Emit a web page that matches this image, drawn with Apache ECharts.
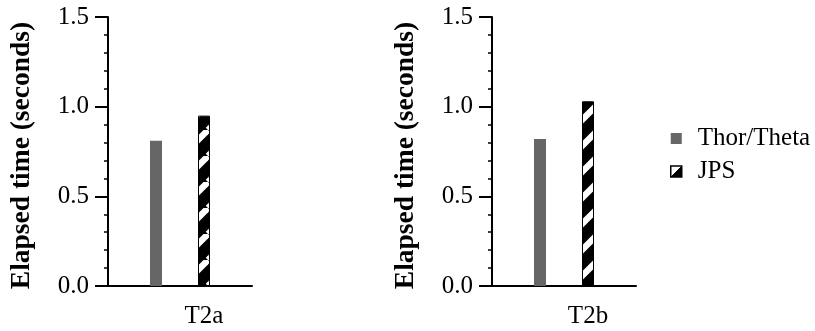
<!DOCTYPE html>
<html>
<head>
<meta charset="utf-8">
<script src="https://cdn.jsdelivr.net/npm/echarts@6/dist/echarts.min.js"></script>
<style>
  html, body { margin: 0; padding: 0; background: #fff; }
  #chart { width: 815px; height: 331px; }
</style>
</head>
<body>
<div id="chart"></div>
<script>
// data
const panelNames = ['T2a', 'T2b'];
const thorTheta = [0.81, 0.82];
const jps = [0.95, 1.03];
const yTicks = [0, 0.5, 1.0, 1.5];

const FONT = '"Liberation Serif", "Times New Roman", serif';

// black bar with white diagonal stripes
function stripePattern() {
  const P = 26;
  const c = document.createElement('canvas');
  c.width = P;
  c.height = P;
  const ctx = c.getContext('2d');
  ctx.fillStyle = '#000';
  ctx.fillRect(0, 0, P, P);
  ctx.strokeStyle = '#fff';
  ctx.lineWidth = 6.4;
  for (let k = -1; k <= 1; k++) {
    ctx.beginPath();
    ctx.moveTo(0 + k * P, P);
    ctx.lineTo(P + k * P, 0);
    ctx.stroke();
  }
  return { image: c, repeat: 'repeat' };
}

const chart = echarts.init(document.getElementById('chart'), null, { renderer: 'canvas' });
const jpsFill = stripePattern();

const gridLefts = [108, 492];
const grids = gridLefts.map((l) => ({ left: l, top: 17, width: 144, height: 269 }));

const xAxes = panelNames.map((name, i) => ({
  type: 'category',
  gridIndex: i,
  data: [name],
  axisTick: { show: false },
  axisLine: { lineStyle: { color: '#000', width: 2 } },
  axisLabel: {
    color: '#000',
    fontFamily: FONT,
    fontSize: 25,
    margin: 18,
    padding: [0, 0, 0, 48]
  }
}));

const yAxes = panelNames.map((name, i) => ({
  type: 'value',
  gridIndex: i,
  min: yTicks[0],
  max: yTicks[yTicks.length - 1],
  interval: 0.5,
  name: 'Elapsed time (seconds)',
  nameLocation: 'middle',
  nameGap: 72,
  nameTextStyle: {
    color: '#000',
    fontFamily: FONT,
    fontSize: 27.5,
    fontWeight: 'bold',
    padding: [0, 8, 0, 0]
  },
  splitLine: { show: false },
  axisLine: { show: true, lineStyle: { color: '#000', width: 2 } },
  axisTick: { show: true, length: 13, lineStyle: { color: '#000', width: 2 } },
  minorTick: { show: true, splitNumber: 5, length: 4, lineStyle: { color: '#000', width: 1.5 } },
  axisLabel: {
    color: '#000',
    fontFamily: FONT,
    fontSize: 25,
    margin: 19,
    formatter: (v) => v.toFixed(1)
  }
}));

const series = [];
panelNames.forEach((name, i) => {
  series.push({
    name: 'Thor/Theta',
    type: 'bar',
    xAxisIndex: i,
    yAxisIndex: i,
    barWidth: 12,
    barGap: '300%',
    data: [thorTheta[i]],
    itemStyle: { color: '#666666' }
  });
  series.push({
    name: 'JPS',
    type: 'bar',
    xAxisIndex: i,
    yAxisIndex: i,
    barWidth: 12,
    barGap: '300%',
    data: [jps[i]],
    itemStyle: { color: jpsFill, borderColor: '#000', borderWidth: 1 }
  });
});

const option = {
  backgroundColor: '#fff',
  animation: false,
  grid: grids,
  xAxis: xAxes,
  yAxis: yAxes,
  legend: {
    orient: 'vertical',
    left: 670,
    top: 126,
    padding: 0,
    itemWidth: 11,
    itemHeight: 11,
    itemGap: 8,
    textStyle: { color: '#000', fontFamily: FONT, fontSize: 25, padding: [0, 0, 0, 11] },
    data: [
      { name: 'Thor/Theta', icon: 'rect', itemStyle: { color: '#666666' } },
      {
        name: 'JPS',
        icon: 'rect',
        itemStyle: {
          color: new echarts.graphic.LinearGradient(0, 0, 1, 1, [
            { offset: 0, color: '#fff' },
            { offset: 0.5, color: '#fff' },
            { offset: 0.5, color: '#000' },
            { offset: 1, color: '#000' }
          ]),
          borderColor: '#000',
          borderWidth: 1.5
        }
      }
    ]
  },
  series: series
};

chart.setOption(option);
</script>
</body>
</html>
